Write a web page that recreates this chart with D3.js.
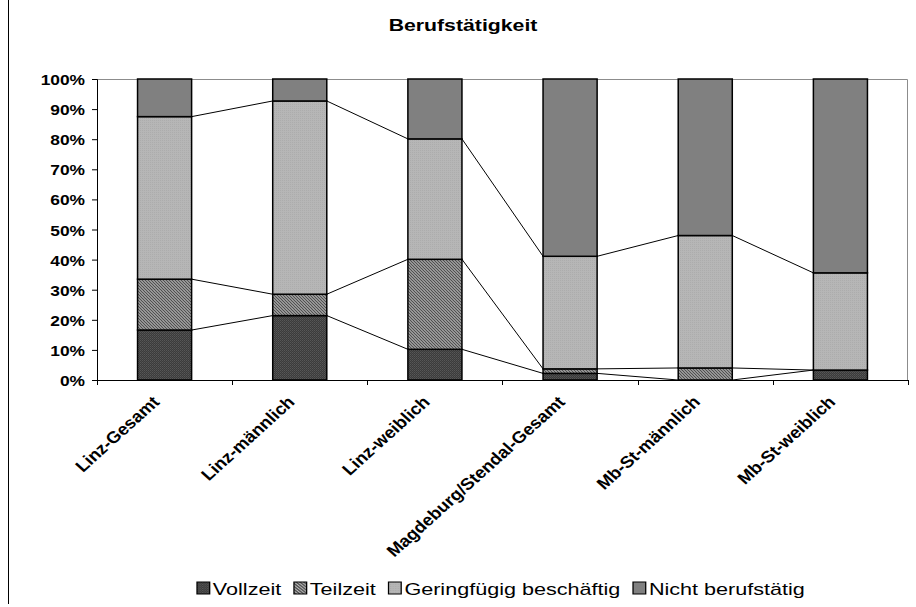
<!DOCTYPE html>
<html>
<head>
<meta charset="utf-8">
<script src="https://cdn.jsdelivr.net/npm/d3@7"></script>
<style>
  html, body { margin: 0; padding: 0; background: #fff; }
  svg { display: block; font-family: "Liberation Sans", Arial, sans-serif; }
</style>
</head>
<body>
<svg id="chart" width="916" height="607"></svg>
<script>
const categories = ["Linz-Gesamt", "Linz-männlich", "Linz-weiblich", "Magdeburg/Stendal-Gesamt", "Mb-St-männlich", "Mb-St-weiblich"];
const seriesNames = ["Vollzeit", "Teilzeit", "Geringfügig beschäftig", "Nicht berufstätig"];
const vollzeit     = [16.6, 21.4, 10.2, 2.2, 0.0, 3.3];
const teilzeit     = [16.9, 7.1, 29.9, 1.5, 4.0, 0.0];
const geringfuegig = [54.0, 64.2, 40.0, 37.4, 44.0, 32.3];
const nichtBeruf   = [12.5, 7.3, 19.9, 58.9, 52.0, 64.4];
const yTicks = [0, 10, 20, 30, 40, 50, 60, 70, 80, 90, 100];
const title = "Berufstätigkeit";

const seriesValues = [vollzeit, teilzeit, geringfuegig, nichtBeruf];
const svg = d3.select("#chart");
const margin = {left: 97, right: 8, top: 79, bottom: 227};
const W = 916, H = 607;
const x0 = margin.left, x1 = W - margin.right, y0 = margin.top, y1 = H - margin.bottom;

// patterns
const defs = svg.append("defs");
const pV = defs.append("pattern").attr("id", "pVoll").attr("patternUnits", "userSpaceOnUse").attr("width", 2).attr("height", 2);
pV.append("rect").attr("width", 2).attr("height", 2).attr("fill", "#3b3b3b");
pV.append("rect").attr("width", 1).attr("height", 1).attr("fill", "#575757");
pV.append("rect").attr("x", 1).attr("y", 1).attr("width", 1).attr("height", 1).attr("fill", "#4c4c4c");
const pT = defs.append("pattern").attr("id", "pTeil").attr("patternUnits", "userSpaceOnUse").attr("width", 3).attr("height", 3);
pT.append("rect").attr("width", 3).attr("height", 3).attr("fill", "#cdcdcd");
pT.append("path").attr("d", "M-1,-1 L4,4 M-1,2 L1,4 M2,-1 L4,1").attr("stroke", "#505050").attr("stroke-width", 1.3);
const pG = defs.append("pattern").attr("id", "pGer").attr("patternUnits", "userSpaceOnUse").attr("width", 2).attr("height", 2);
pG.append("rect").attr("width", 2).attr("height", 2).attr("fill", "#b6b6b6");
pG.append("rect").attr("width", 1).attr("height", 1).attr("fill", "#acacac");
const fills = ["url(#pVoll)", "url(#pTeil)", "url(#pGer)", "#808080"];

// scales
const x = d3.scaleBand().domain(categories).range([x0, x1]).paddingInner(0.6).paddingOuter(0.3);
const y = d3.scaleLinear().domain([0, 100]).range([y1, y0]);

// chart frame line on the left
svg.append("line").attr("x1", 8.5).attr("x2", 8.5).attr("y1", 0).attr("y2", 604).attr("stroke", "#000").attr("stroke-width", 1);

// plot area border (top/right gray)
svg.append("path").attr("d", `M${x0},${y0 + 0.5} H${x1 - 0.5} V${y1}`).attr("fill", "none").attr("stroke", "#8c8c8c").attr("stroke-width", 1);

// stack
const rows = categories.map((c, i) => {
  const o = {cat: c};
  seriesNames.forEach((s, k) => o[s] = seriesValues[k][i]);
  return o;
});
const stacked = d3.stack().keys(seriesNames)(rows);

// bars
stacked.forEach((layer, k) => {
  svg.append("g").selectAll("rect").data(layer).join("rect")
    .attr("x", d => x(d.data.cat))
    .attr("y", d => y(d[1]))
    .attr("width", x.bandwidth())
    .attr("height", d => y(d[0]) - y(d[1]))
    .attr("fill", fills[k])
    .attr("stroke", "#000")
    .attr("stroke-width", 1.5);
});

// series lines
for (let k = 0; k < 3; k++) {
  const layer = stacked[k];
  for (let i = 0; i < categories.length - 1; i++) {
    svg.append("line")
      .attr("x1", x(categories[i]) + x.bandwidth()).attr("y1", y(layer[i][1]))
      .attr("x2", x(categories[i + 1])).attr("y2", y(layer[i + 1][1]))
      .attr("stroke", "#000").attr("stroke-width", 1);
  }
}

// y axis
const yAxis = svg.append("g").attr("transform", `translate(${x0},0)`)
  .call(d3.axisLeft(y).tickValues(yTicks).tickSize(5).tickFormat(d => d + "%"));
yAxis.select(".domain").attr("stroke", "#000");
yAxis.selectAll(".tick line").attr("stroke", "#000");
yAxis.selectAll(".tick text")
  .attr("x", null).attr("dy", "0.36em")
  .attr("transform", "translate(-12,0) scale(1.12,1)")
  .attr("font-size", 15.5).attr("font-weight", "bold").attr("fill", "#000")
  .attr("font-family", "Liberation Sans, Arial, sans-serif");

// x axis line and boundary ticks
svg.append("line").attr("x1", x0).attr("x2", x1).attr("y1", y1 + 0.5).attr("y2", y1 + 0.5).attr("stroke", "#000");
const step = x.step();
const bounds = categories.map(c => x(c) - step * x.paddingInner() / 2).concat([x1]);
svg.append("g").selectAll("line").data(bounds).join("line")
  .attr("x1", d => Math.round(d) + 0.5).attr("x2", d => Math.round(d) + 0.5)
  .attr("y1", y1).attr("y2", y1 + 5).attr("stroke", "#000");

// x labels
svg.append("g").selectAll("text").data(categories).join("text")
  .attr("transform", d => `translate(${x(d) + x.bandwidth() / 2 - 4},${y1 + 23}) scale(1.11,1) rotate(-45)`)
  .attr("text-anchor", "end")
  .attr("font-size", 16.5).attr("font-weight", "bold").attr("fill", "#000")
  .text(d => d);

// title
svg.append("text")
  .attr("transform", `translate(463,31) scale(1.25,1)`)
  .attr("text-anchor", "middle")
  .attr("font-size", 17).attr("font-weight", "bold").attr("fill", "#000")
  .text(title);

// legend
const sx = 1.27;
const legend = svg.append("g").attr("transform", `translate(197,0) scale(${sx},1)`);
let cx = 0;
seriesNames.forEach((s, k) => {
  legend.append("rect").attr("x", cx).attr("y", 582).attr("width", 10).attr("height", 12)
    .attr("fill", fills[k]).attr("stroke", "#000").attr("stroke-width", 1);
  const t = legend.append("text").attr("x", cx + 12.5).attr("y", 595)
    .attr("font-size", 17).attr("fill", "#000").text(s);
  cx += 12.5 + t.node().getComputedTextLength() + 10;
});
</script>
</body>
</html>
